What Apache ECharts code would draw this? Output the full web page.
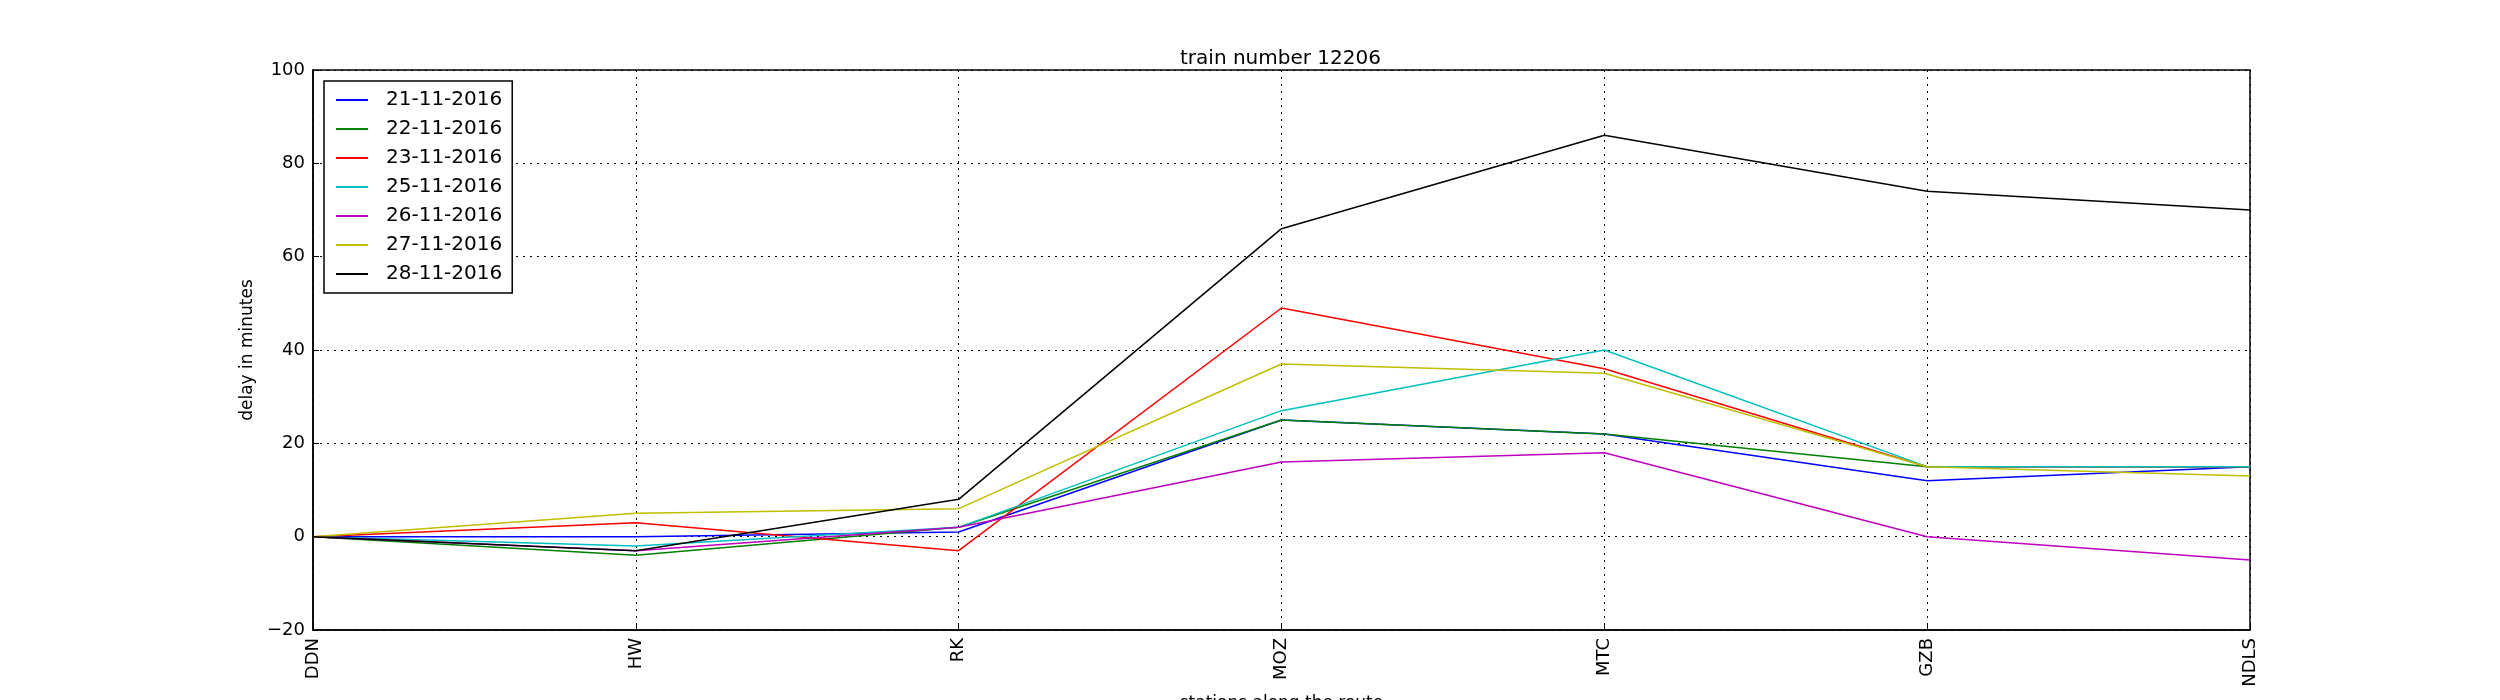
<!DOCTYPE html>
<html>
<head>
<meta charset="utf-8">
<script src="https://cdn.jsdelivr.net/npm/echarts@6/dist/echarts.min.js"></script>
<style>
html, body { margin:0; padding:0; background:#fff; }
#chart { width:2500px; height:700px; }
</style>
</head>
<body>
<div id="chart"></div>
<script>
// stations along the route
var stations = ['DDN', 'HW', 'RK', 'MOZ', 'MTC', 'GZB', 'NDLS'];

// delay in minutes per date
var d21 = [0, 0, 1, 25, 22, 12, 15];
var d22 = [0, -4, 2, 25, 22, 15, 15];
var d23 = [0, 3, -3, 49, 36, 15, 15];
var d25 = [0, -2, 2, 27, 40, 15, 15];
var d26 = [0, -3, 2, 16, 18, 0, -5];
var d27 = [0, 5, 6, 37, 35, 15, 13];
var d28 = [0, -3, 8, 66, 86, 74, 70];

var dates = ['21-11-2016', '22-11-2016', '23-11-2016', '25-11-2016', '26-11-2016', '27-11-2016', '28-11-2016'];
var values = [d21, d22, d23, d25, d26, d27, d28];
var colors = ['#0000ff', '#008000', '#ff0000', '#00bfbf', '#bf00bf', '#bfbf00', '#000000'];

var font = 'DejaVu Sans';

var series = [];
for (var i = 0; i < dates.length; i++) {
    series.push({
        name: dates[i],
        type: 'line',
        data: values[i],
        symbol: 'none',
        color: colors[i],
        lineStyle: { width: 1.5, color: colors[i] },
        emphasis: { disabled: true },
        animation: false
    });
}

var option = {
    backgroundColor: '#fff',
    animation: false,
    title: {
        text: 'train number 12206',
        left: 1175,
        top: 44,
        textStyle: { fontFamily: font, fontSize: 20, fontWeight: 'normal', color: '#000' }
    },
    legend: {
        orient: 'vertical',
        left: 324,
        top: 81,
        icon: 'rect',
        itemWidth: 32,
        itemHeight: 2,
        itemGap: 9,
        padding: [9, 10, 9, 12],
        borderColor: '#000',
        borderWidth: 1.5,
        backgroundColor: '#fff',
        textStyle: { fontFamily: font, fontSize: 20, color: '#000', padding: [0, 0, 0, 13] },
        data: dates
    },
    grid: {
        left: 313,
        right: 250,
        top: 70,
        bottom: 70,
        show: true,
        borderColor: '#000',
        borderWidth: 1.5,
        containLabel: false,
        outerBoundsMode: 'none'
    },
    xAxis: {
        type: 'category',
        data: stations,
        boundaryGap: false,
        name: 'stations along the route',
        nameLocation: 'middle',
        nameGap: 60,
        nameTextStyle: { fontFamily: font, fontSize: 17, color: '#000', verticalAlign: 'top' },
        axisLine: { show: true, onZero: false, lineStyle: { color: '#000', width: 1.5 } },
        axisTick: { show: true, inside: true, length: 6, lineStyle: { color: '#000' } },
        axisLabel: { rotate: 90, margin: 8, fontFamily: font, fontSize: 18, color: '#000' },
        splitLine: { show: true, lineStyle: { color: '#000', type: [2, 5], width: 1 } }
    },
    yAxis: {
        type: 'value',
        min: -20,
        max: 100,
        interval: 20,
        name: 'delay in minutes',
        nameLocation: 'middle',
        nameGap: 50,
        nameTextStyle: { fontFamily: font, fontSize: 17, color: '#000' },
        axisLine: { show: true, lineStyle: { color: '#000', width: 1.5 } },
        axisTick: { show: true, inside: true, length: 6, lineStyle: { color: '#000' } },
        axisLabel: {
            margin: 8, fontFamily: font, fontSize: 18, color: '#000',
            formatter: function (v) { return v < 0 ? '\u2212' + Math.abs(v) : String(v); }
        },
        splitLine: { show: true, lineStyle: { color: '#000', type: [2, 5], width: 1 } }
    },
    series: series
};

var chart = echarts.init(document.getElementById('chart'));
chart.setOption(option, true);
</script>
</body>
</html>
